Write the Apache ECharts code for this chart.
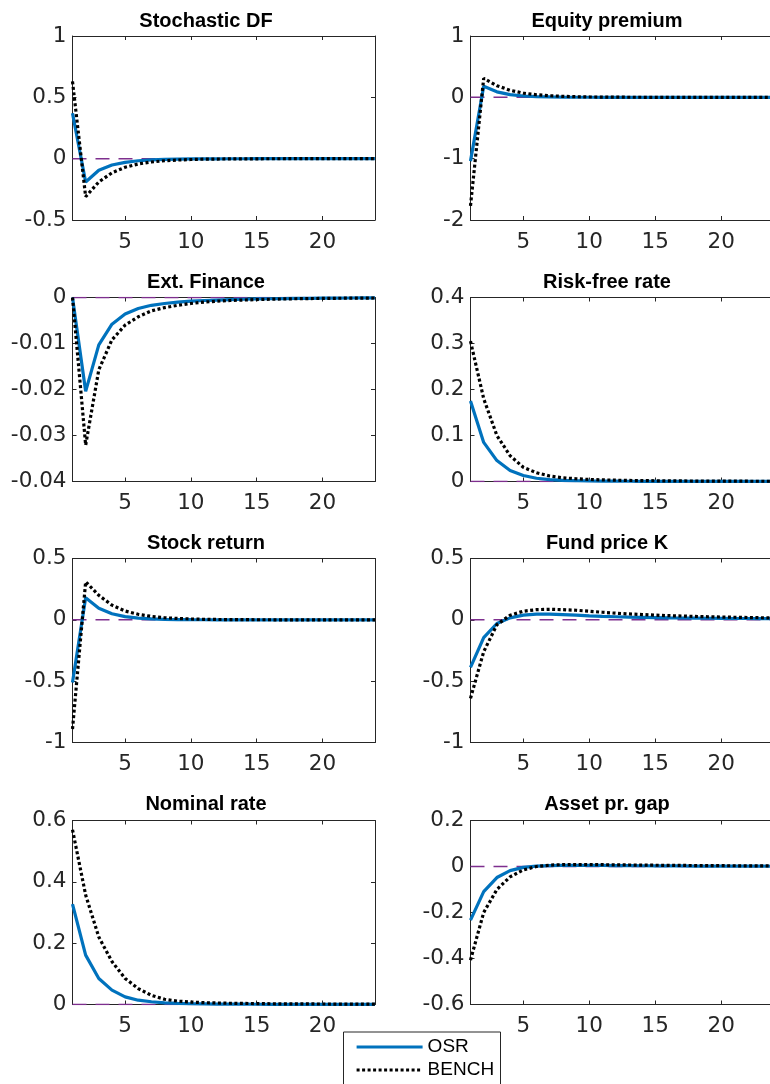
<!DOCTYPE html>
<html>
<head>
<meta charset="utf-8">
<script src="https://cdn.jsdelivr.net/npm/echarts@6/dist/echarts.min.js"></script>
<style>
  html, body { margin: 0; padding: 0; background: #fff; overflow: hidden; }
  #irf { width: 780px; height: 1084px; }
</style>
</head>
<body>
<div id="irf"></div>
<script>
// horizon (periods after the shock)
const periods = [1, 2, 3, 4, 5, 6, 7, 8, 9, 10, 11, 12, 13, 14, 15, 16, 17, 18, 19, 20, 21, 22, 23, 24];
const xTicks = [5, 10, 15, 20];
const zeroLevel = 0;

// Stochastic DF
const osrSdf = [0.37, -0.19, -0.095, -0.052, -0.03, -0.017, -0.01, -0.006, -0.004, -0.002, -0.0015, -0.001, -0.0007, -0.0005, -0.0003, -0.0002, -0.0001, -0.0001, 0, 0, 0, 0, 0, 0];
const benchSdf = [0.63, -0.31, -0.19, -0.115, -0.07, -0.043, -0.027, -0.017, -0.011, -0.007, -0.004, -0.003, -0.002, -0.0015, -0.001, -0.0007, -0.0005, -0.0003, -0.0002, -0.0001, 0, 0, 0, 0];
// Equity premium
const osrEp = [-1.04, 0.18, 0.09, 0.045, 0.022, 0.011, 0.006, 0.003, 0.0015, 0.001, 0.0005, 0.0003, 0.0002, 0.0001, 0, 0, 0, 0, 0, 0, 0, 0, 0, 0];
const benchEp = [-1.77, 0.31, 0.19, 0.115, 0.068, 0.042, 0.026, 0.016, 0.01, 0.006, 0.004, 0.0025, 0.0015, 0.001, 0.0006, 0.0004, 0.0002, 0.0001, 0, 0, 0, 0, 0, 0];
// Ext. Finance
const osrExt = [0, -0.0204, -0.0103, -0.0058, -0.0036, -0.0024, -0.0017, -0.0013, -0.001, -0.0008, -0.00065, -0.00055, -0.00045, -0.00038, -0.00032, -0.00027, -0.00023, -0.0002, -0.00017, -0.00015, -0.00013, -0.00011, -0.0001, -0.00009];
const benchExt = [0, -0.0321, -0.0157, -0.0092, -0.006, -0.0042, -0.0029, -0.0022, -0.0017, -0.0013, -0.001, -0.0008, -0.00065, -0.00055, -0.00045, -0.00038, -0.00032, -0.00027, -0.00023, -0.0002, -0.00017, -0.00015, -0.00013, -0.00011];
// Risk-free rate
const osrRf = [0.175, 0.085, 0.0455, 0.024, 0.013, 0.007, 0.004, 0.0025, 0.0017, 0.0012, 0.0009, 0.0007, 0.0005, 0.0004, 0.0003, 0.00025, 0.0002, 0.00015, 0.0001, 0.0001, 0.0001, 0.0001, 0.0001, 0.0001];
const benchRf = [0.305, 0.18, 0.1, 0.056, 0.031, 0.019, 0.012, 0.008, 0.006, 0.0045, 0.0035, 0.0028, 0.0023, 0.0019, 0.0016, 0.0014, 0.0012, 0.001, 0.0009, 0.0008, 0.0007, 0.0006, 0.0005, 0.0005];
// Stock return
const osrSr = [-0.51, 0.18, 0.095, 0.05, 0.026, 0.014, 0.008, 0.004, 0.002, 0.001, 0.0006, 0.0003, 0.0002, 0.0001, 0, 0, 0, 0, 0, 0, 0, 0, 0, 0];
const benchSr = [-0.89, 0.31, 0.2, 0.12, 0.072, 0.045, 0.028, 0.017, 0.011, 0.007, 0.0045, 0.003, 0.002, 0.0012, 0.0008, 0.0005, 0.0003, 0.0002, 0.0001, 0, 0, 0, 0, 0];
// Fund price K
const osrFk = [-0.387, -0.145, -0.03, 0.016, 0.038, 0.046, 0.046, 0.043, 0.038, 0.032, 0.028, 0.025, 0.022, 0.02, 0.018, 0.016, 0.015, 0.014, 0.013, 0.012, 0.011, 0.011, 0.01, 0.01];
const benchFk = [-0.64, -0.26, -0.04, 0.038, 0.07, 0.083, 0.086, 0.083, 0.078, 0.07, 0.062, 0.054, 0.048, 0.043, 0.038, 0.034, 0.031, 0.028, 0.025, 0.023, 0.021, 0.019, 0.017, 0.016];
// Nominal rate
const osrNr = [0.327, 0.161, 0.085, 0.047, 0.025, 0.014, 0.009, 0.005, 0.0035, 0.0025, 0.002, 0.0015, 0.0012, 0.001, 0.0008, 0.0007, 0.0006, 0.0005, 0.0004, 0.0004, 0.0003, 0.0003, 0.0003, 0.0002];
const benchNr = [0.57, 0.357, 0.22, 0.14, 0.085, 0.052, 0.03, 0.017, 0.011, 0.008, 0.006, 0.005, 0.004, 0.0035, 0.003, 0.0025, 0.002, 0.002, 0.0018, 0.0016, 0.0015, 0.0014, 0.0013, 0.0012];
// Asset pr. gap
const osrApg = [-0.233, -0.109, -0.048, -0.018, -0.004, 0.002, 0.004, 0.005, 0.005, 0.0048, 0.0045, 0.004, 0.0036, 0.0032, 0.0029, 0.0026, 0.0023, 0.002, 0.0018, 0.0016, 0.0014, 0.0013, 0.0012, 0.001];
const benchApg = [-0.407, -0.2, -0.1, -0.045, -0.015, 0, 0.006, 0.008, 0.0085, 0.0082, 0.0078, 0.0072, 0.0066, 0.006, 0.0055, 0.005, 0.0046, 0.0042, 0.0038, 0.0035, 0.0032, 0.0029, 0.0027, 0.0025];

const panelTitles = ["Stochastic DF", "Equity premium", "Ext. Finance", "Risk-free rate", "Stock return", "Fund price K", "Nominal rate", "Asset pr. gap"];
const osrSeries = [osrSdf, osrEp, osrExt, osrRf, osrSr, osrFk, osrNr, osrApg];
const benchSeries = [benchSdf, benchEp, benchExt, benchRf, benchSr, benchFk, benchNr, benchApg];
// y axis ranges: [min, max, interval]
const yRanges = [[-0.5, 1, 0.5], [-2, 1, 1], [-0.04, 0, 0.01], [0, 0.4, 0.1], [-1, 0.5, 0.5], [-1, 0.5, 0.5], [0, 0.6, 0.2], [-0.6, 0.2, 0.2]];

const axisColor = "#262626";
const colLeft = [72.5, 470.5];
const colWidth = [302.5, 303.5];
const rowTop = [36, 297.5, 558.5, 820.5];
const titleX = [206, 607];
const titleTop = [11, 272, 533, 794];

const myChart = echarts.init(document.getElementById("irf"), null, { renderer: "canvas" });

let grids = [], xAxes = [], yAxes = [], titles = [], series = [];
panelTitles.forEach((name, i) => {
  const col = i % 2;
  const row = Math.floor(i / 2);
  grids.push({ left: colLeft[col], top: rowTop[row], width: colWidth[col], height: 184 });
  titles.push({
    text: name,
    left: titleX[col],
    top: titleTop[row],
    textAlign: "center",
    padding: 0,
    textStyle: { fontFamily: "Liberation Sans", fontWeight: "bold", fontSize: 20, color: "#000" },
  });
  // bottom + top x axes (box on, ticks inside)
  [true, false].forEach((withLabels) => {
    xAxes.push({
      type: "value",
      gridIndex: i,
      position: withLabels ? "bottom" : "top",
      min: 1,
      max: 24,
      axisLine: { show: true, onZero: false, lineStyle: { color: axisColor, width: 1 } },
      axisTick: { show: true, inside: true, length: 4, customValues: xTicks, lineStyle: { color: axisColor } },
      axisLabel: {
        show: withLabels,
        customValues: xTicks,
        margin: 11,
        color: axisColor,
        fontFamily: "DejaVu Sans",
        fontSize: 21.5,
      },
      splitLine: { show: false },
    });
  });
  const [ymin, ymax, step] = yRanges[i];
  [true, false].forEach((withLabels) => {
    yAxes.push({
      type: "value",
      gridIndex: i,
      position: withLabels ? "left" : "right",
      min: ymin,
      max: ymax,
      interval: step,
      axisLine: { show: true, onZero: false, lineStyle: { color: axisColor, width: 1 } },
      axisTick: { show: true, inside: true, length: 4, lineStyle: { color: axisColor } },
      axisLabel: {
        show: withLabels,
        margin: 6,
        color: axisColor,
        fontFamily: "DejaVu Sans",
        fontSize: 21.5,
      },
      splitLine: { show: false },
    });
  });
  // zero reference line
  series.push({
    name: "zero",
    type: "line",
    xAxisIndex: i * 2,
    yAxisIndex: i * 2,
    data: [[periods[0], zeroLevel], [periods[periods.length - 1], zeroLevel]],
    symbol: "none",
    silent: true,
    z: 1,
    lineStyle: { color: "#7E2F8E", width: 1.5, type: [14, 9] },
  });
  series.push({
    name: "OSR",
    type: "line",
    xAxisIndex: i * 2,
    yAxisIndex: i * 2,
    data: periods.map((p, k) => [p, osrSeries[i][k]]),
    symbol: "none",
    z: 2,
    lineStyle: { color: "#0072BD", width: 3.2 },
    itemStyle: { color: "#0072BD" },
  });
  series.push({
    name: "BENCH",
    type: "line",
    xAxisIndex: i * 2,
    yAxisIndex: i * 2,
    data: periods.map((p, k) => [p, benchSeries[i][k]]),
    symbol: "none",
    z: 3,
    lineStyle: { color: "#000", width: 3.2, type: [3, 2.5], cap: "butt" },
    itemStyle: { color: "#000" },
  });
});

const option = {
  animation: false,
  backgroundColor: "#fff",
  title: titles,
  grid: grids,
  xAxis: xAxes,
  yAxis: yAxes,
  // legend frame (bottom edge runs past the page, as in the source figure)
  graphic: [
    {
      type: "rect",
      left: 343,
      top: 1031.5,
      z: 0,
      shape: { width: 157, height: 80 },
      style: { fill: "#fff", stroke: axisColor, lineWidth: 1 },
      silent: true,
    },
  ],
  legend: {
    data: ["OSR", "BENCH"],
    orient: "vertical",
    left: 355,
    top: 1037.5,
    padding: 0,
    itemWidth: 66,
    itemHeight: 19,
    itemGap: 4,
    z: 10,
    selectedMode: false,
    itemStyle: { opacity: 0, borderWidth: 0 },
    lineStyle: { width: 3.2 },
    textStyle: { fontFamily: "Liberation Sans", fontSize: 19, color: "#000", padding: [2, 0, 0, 0] },
  },
  series: series,
};
myChart.setOption(option, true);

window.addEventListener("resize", () => {
  myChart.resize();
});
</script>
</body>
</html>
